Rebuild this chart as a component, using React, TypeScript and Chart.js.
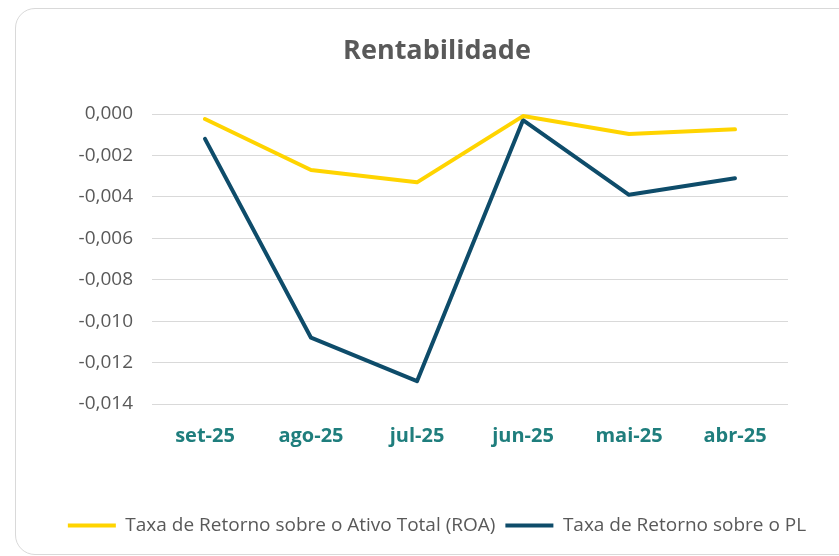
import React, { useEffect, useRef } from "react";
import { Chart, registerables } from "chart.js";

Chart.register(...registerables);

const categories = ["set-25", "ago-25", "jul-25", "jun-25", "mai-25", "abr-25"];
const roaValues = [-0.00024, -0.0027, -0.0033, -0.0001, -0.00097, -0.00074];
const plValues = [-0.0012, -0.0108, -0.0129, -0.0003, -0.0039, -0.0031];
const seriesNames = ["Taxa de Retorno sobre o Ativo Total (ROA)", "Taxa de Retorno sobre o PL"];
const titleText = "Rentabilidade";

const ROA_COLOR = "#FFD400";
const PL_COLOR = "#0E4C6A";
const TEXT_GREY = "#595959";
const AXIS_TEAL = "#1F7E7D";
const FONT = "'Open Sans', sans-serif";

export default function App() {
  const ref = useRef<HTMLCanvasElement>(null);

  useEffect(() => {
    if (!ref.current) return;
    const chart = new Chart(ref.current, {
      type: "line",
      data: {
        labels: categories,
        datasets: [
          {
            label: seriesNames[0],
            data: roaValues,
            borderColor: ROA_COLOR,
            backgroundColor: ROA_COLOR,
            borderWidth: 4,
            pointRadius: 0,
            tension: 0,
            borderJoinStyle: "round",
            borderCapStyle: "round",
          },
          {
            label: seriesNames[1],
            data: plValues,
            borderColor: PL_COLOR,
            backgroundColor: PL_COLOR,
            borderWidth: 4,
            pointRadius: 0,
            tension: 0,
            borderJoinStyle: "round",
            borderCapStyle: "round",
          },
        ],
      },
      options: {
        animation: false,
        responsive: false,
        maintainAspectRatio: false,
        layout: { padding: { left: 0, right: 0, top: 0, bottom: 9 } },
        scales: {
          x: {
            offset: true,
            grid: { display: false, drawTicks: false },
            border: { display: false },
            ticks: {
              color: AXIS_TEAL,
              font: { family: FONT, size: 20, weight: "bold" },
              padding: 20,
              maxRotation: 0,
            },
            afterFit: (s: any) => {
              s.height = 102;
            },
          },
          y: {
            min: -0.014,
            max: 0,
            grid: { color: "#D9D9D9", lineWidth: 1, drawTicks: false },
            border: { display: false },
            ticks: {
              stepSize: 0.002,
              color: TEXT_GREY,
              font: { family: FONT, size: 19 },
              padding: 19,
              callback: (v: any) => {
                const n = Math.round(Number(v) * 1000) / 1000;
                return (n === 0 ? 0 : n).toFixed(3).replace(".", ",");
              },
            },
            afterFit: (s: any) => {
              s.width = 136;
            },
          },
          y2: {
            position: "right",
            display: true,
            grid: { display: false },
            border: { display: false },
            ticks: { display: false },
            afterFit: (s: any) => {
              s.width = 70;
            },
          },
        },
        plugins: {
          title: {
            display: true,
            text: titleText,
            color: TEXT_GREY,
            font: { family: FONT, size: 27, weight: "bold" },
            padding: { top: 26, bottom: 46.6 },
          },
          legend: {
            position: "bottom",
            labels: {
              color: TEXT_GREY,
              font: { family: FONT, size: 19 },
              boxWidth: 48,
              boxHeight: 4,
              padding: 10,
              generateLabels: (c: any) =>
                c.data.datasets.map((d: any, i: number) => ({
                  text: d.label,
                  fillStyle: d.borderColor,
                  strokeStyle: d.borderColor,
                  lineWidth: 0,
                  fontColor: TEXT_GREY,
                  hidden: false,
                  datasetIndex: i,
                })),
            },
          },
          tooltip: { enabled: false },
        },
      },
    });
    return () => chart.destroy();
  }, []);

  return (
    <div
      style={{
        position: "fixed",
        left: 0,
        top: 0,
        width: 839,
        height: 556,
        overflow: "hidden",
        background: "#fff",
      }}
    >
      <div
        style={{
          position: "absolute",
          left: 15,
          top: 8,
          width: 844,
          height: 547,
          border: "1px solid #D9D9D9",
          borderRadius: 20,
          boxSizing: "border-box",
          background: "#fff",
        }}
      >
        <canvas ref={ref} width={842} height={545} style={{ display: "block" }} />
      </div>
    </div>
  );
}
